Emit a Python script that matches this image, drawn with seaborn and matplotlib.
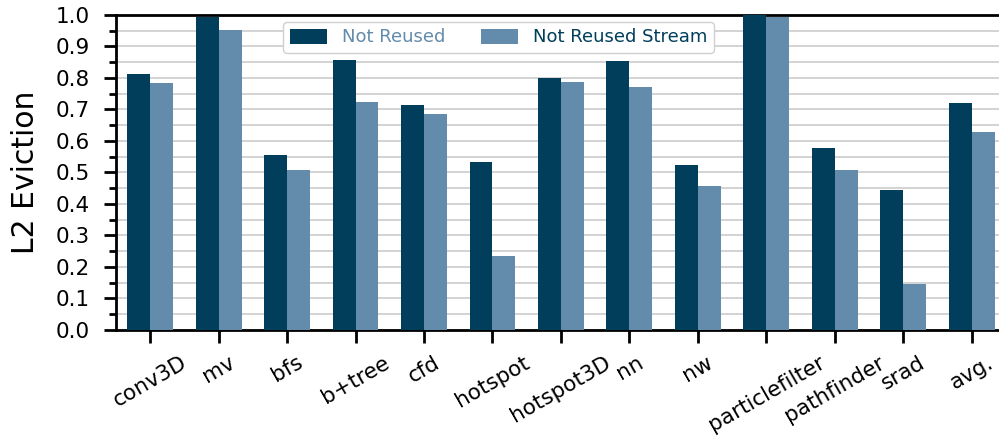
import matplotlib
matplotlib.use("Agg")
import matplotlib.pyplot as plt
from matplotlib.ticker import MultipleLocator
import seaborn as sns
import pandas as pd

categories = ["conv3D", "mv", "bfs", "b+tree", "cfd", "hotspot", "hotspot3D",
              "nn", "nw", "particlefilter", "pathfinder", "srad", "avg."]
not_reused = [0.813, 0.994, 0.556, 0.857, 0.714, 0.533, 0.800,
              0.854, 0.524, 1.000, 0.578, 0.444, 0.720]
not_reused_stream = [0.784, 0.952, 0.508, 0.724, 0.686, 0.235, 0.787,
                     0.771, 0.457, 0.994, 0.508, 0.146, 0.629]
series_names = ["Not Reused", "Not Reused Stream"]
colors = ["#003e5c", "#638bab"]

df = pd.DataFrame({
    "bench": categories * 2,
    "value": not_reused + not_reused_stream,
    "series": [series_names[0]] * len(categories) + [series_names[1]] * len(categories),
})

sns.set_style("white")
plt.rcParams["font.family"] = ["DejaVu Sans"]
plt.rcParams["text.color"] = "black"
plt.rcParams["xtick.color"] = "black"
plt.rcParams["ytick.color"] = "black"
plt.rcParams["axes.labelcolor"] = "black"

fig = plt.figure(figsize=(9.99, 4.4), dpi=100)
ax = fig.add_axes([0.116, 0.25, 0.891, 0.716])

sns.barplot(data=df, x="bench", y="value", hue="series", order=categories,
            hue_order=series_names, palette=colors, width=0.67,
            saturation=1, linewidth=0, ax=ax, zorder=3)

ax.set_xlim(-0.5, 12.5)
ax.set_ylim(0, 1.0)
ax.yaxis.set_major_locator(MultipleLocator(0.1))
ax.yaxis.set_minor_locator(MultipleLocator(0.05))
ax.set_yticklabels([f"{v:.1f}" for v in ax.get_yticks()])
ax.grid(axis="y", which="both", color="#c8c8c8", linewidth=1.1, zorder=0)
ax.set_axisbelow(True)

ax.tick_params(axis="y", which="major", length=9, width=2, labelsize=15.5, pad=10,
               direction="out", left=True)
ax.tick_params(axis="y", which="minor", length=5, width=2, direction="out", left=True)
ax.tick_params(axis="x", which="major", length=9, width=2, labelsize=15.5, pad=7,
               direction="out", bottom=True)
for lbl in ax.get_xticklabels():
    lbl.set_rotation(30)
    lbl.set_ha("center")

for side in ["left", "bottom", "top"]:
    ax.spines[side].set_visible(True)
    ax.spines[side].set_color("black")
    ax.spines[side].set_linewidth(2)
ax.spines["right"].set_visible(False)

ax.set_xlabel("")
ax.set_ylabel("L2 Eviction", fontsize=21.5, labelpad=11)

leg = ax.legend(loc="upper center", bbox_to_anchor=(0.43, 0.995), ncol=2, fontsize=13,
                frameon=True, fancybox=True, edgecolor="#d0d0d0", framealpha=1,
                handlelength=2.05, handleheight=0.9, handletextpad=0.83,
                columnspacing=2.0, borderpad=0.35, borderaxespad=0.3)
leg.get_texts()[0].set_color(colors[1])
leg.get_texts()[1].set_color(colors[0])

fig.savefig("out.png", dpi=100)
